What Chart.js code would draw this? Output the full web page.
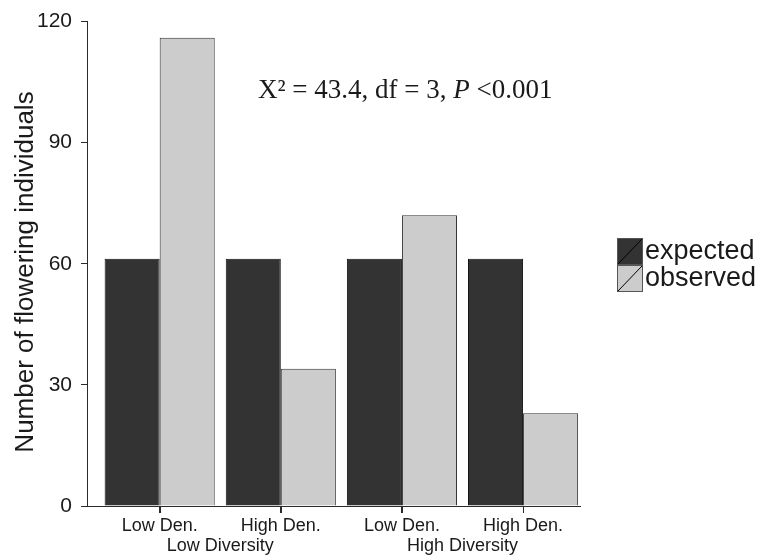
<!DOCTYPE html>
<html>
<head>
<meta charset="utf-8">
<script src="https://cdn.jsdelivr.net/npm/chart.js@4"></script>
<style>
  html, body { margin: 0; padding: 0; background: #fff; }
  #wrap { width: 763px; height: 560px; }
</style>
</head>
<body>
<div id="wrap"><canvas id="myChart" width="763" height="560"></canvas></div>
<script>
const densityLabels = ['Low Den.', 'High Den.', 'Low Den.', 'High Den.'];
const diversityLabels = ['Low Diversity', 'High Diversity'];
const expectedCounts = [61.25, 61.25, 61.25, 61.25];
const observedCounts = [116, 34, 72, 23];
const yTicks = [0, 30, 60, 90, 120];
const seriesNames = ['expected', 'observed'];
const seriesColors = ['#333333', '#cccccc'];

const textColor = '#1a1a1a';
const lineColor = '#2a2a2a';

// axis title, group labels, stats note and the legend are painted here
const extras = {
  id: 'extras',
  afterDraw(chart) {
    const c = chart.ctx;
    const x = chart.scales.x;
    const area = chart.chartArea;
    c.save();
    c.fillStyle = textColor;

    // tick marks under each category
    c.strokeStyle = lineColor;
    c.lineWidth = 1;
    densityLabels.forEach((d, i) => {
      const px = Math.round(x.getPixelForValue(i)) + 0.5;
      c.beginPath();
      c.moveTo(px, area.bottom);
      c.lineTo(px, area.bottom + 7);
      c.stroke();
    });

    // y title
    c.save();
    c.translate(26, 272);
    c.rotate(-Math.PI / 2);
    c.font = '26px "Liberation Sans", Arial, sans-serif';
    c.textAlign = 'center';
    c.textBaseline = 'middle';
    c.fillText('Number of flowering individuals', 0, 0);
    c.restore();

    // diversity labels under pairs of categories
    c.font = '18px "Liberation Sans", Arial, sans-serif';
    c.textAlign = 'center';
    c.textBaseline = 'middle';
    diversityLabels.forEach((lab, i) => {
      const px = x.getPixelForValue(i * 2 + 0.5);
      c.fillText(lab, px, 546);
    });

    // stats note
    c.textAlign = 'left';
    c.textBaseline = 'alphabetic';
    let tx = 258;
    const by = 98;
    const parts = [
      ['X² = 43.4, df = 3, ', 'normal'],
      ['P', 'italic'],
      [' <0.001', 'normal']
    ];
    parts.forEach(p => {
      c.font = p[1] + ' 27px "Liberation Serif", "Times New Roman", serif';
      c.fillText(p[0], tx, by);
      tx += c.measureText(p[0]).width;
    });

    // legend
    const bx = 617, bw = 26, bh = 27;
    seriesNames.forEach((name, i) => {
      const y0 = 238 + i * bh;
      c.fillStyle = seriesColors[i];
      c.fillRect(bx, y0, bw, bh);
      c.strokeStyle = '#555555';
      c.lineWidth = 1;
      c.strokeRect(bx + 0.5, y0 + 0.5, bw - 1, bh - 1);
      c.strokeStyle = '#000000';
      c.beginPath();
      c.moveTo(bx + 1, y0 + bh - 1);
      c.lineTo(bx + bw - 1, y0 + 1);
      c.stroke();
      c.fillStyle = textColor;
      c.font = '27px "Liberation Sans", Arial, sans-serif';
      c.textBaseline = 'middle';
      c.fillText(name, bx + bw + 2, y0 + bh / 2);
    });
    c.restore();
  }
};

const ctx = document.getElementById('myChart').getContext('2d');
new Chart(ctx, {
  type: 'bar',
  data: {
    datasets: [
      {
        label: seriesNames[0],
        data: expectedCounts.map((v, i) => ({ x: i, y: v })),
        backgroundColor: seriesColors[0],
        borderColor: '#111111',
        borderWidth: 1
      },
      {
        label: seriesNames[1],
        data: observedCounts.map((v, i) => ({ x: i, y: v })),
        backgroundColor: seriesColors[1],
        borderColor: '#333333',
        borderWidth: 1
      }
    ]
  },
  options: {
    responsive: false,
    animation: false,
    categoryPercentage: 0.909,
    barPercentage: 1.0,
    layout: { padding: { top: 19, right: 183, left: 0, bottom: 0 } },
    plugins: {
      legend: { display: false },
      tooltip: { enabled: false }
    },
    scales: {
      x: {
        type: 'linear',
        offset: false,
        min: -0.6,
        max: 3.47,
        afterBuildTicks: (s) => { s.ticks = densityLabels.map((d, i) => ({ value: i })); },
        afterFit: (s) => { s.height = 54; },
        grid: { offset: false, drawOnChartArea: false, tickLength: 7, color: lineColor },
        border: { color: lineColor, width: 1 },
        ticks: {
          padding: 2,
          color: textColor,
          font: { family: '"Liberation Sans", Arial, sans-serif', size: 18 },
          callback: (v) => densityLabels[v]
        }
      },
      y: {
        min: 0,
        max: 120,
        afterBuildTicks: (s) => { s.ticks = yTicks.map(v => ({ value: v })); },
        afterFit: (s) => { s.width = 87; },
        grid: { drawOnChartArea: false, tickLength: 6, color: lineColor },
        border: { color: lineColor, width: 1 },
        ticks: {
          padding: 9,
          color: textColor,
          font: { family: '"Liberation Sans", Arial, sans-serif', size: 21 }
        }
      }
    }
  },
  plugins: [extras]
});
</script>
</body>
</html>
